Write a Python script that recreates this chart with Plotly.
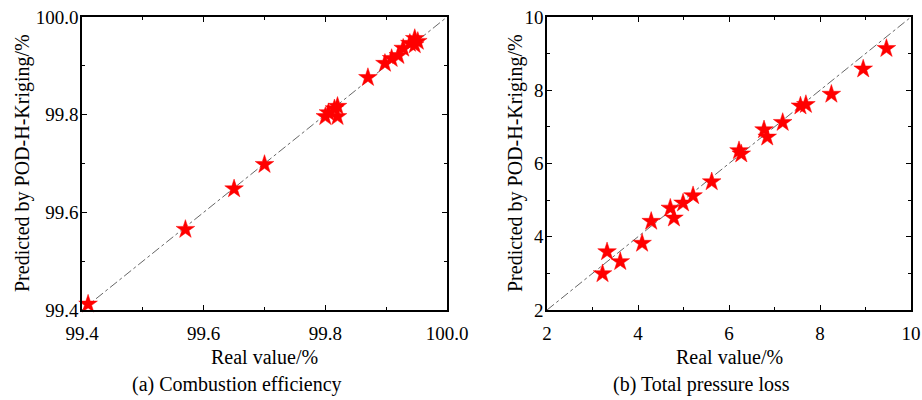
import plotly.graph_objects as go

# (a) Combustion efficiency
ce_real = [99.41, 99.57, 99.65, 99.70, 99.80, 99.805, 99.815, 99.82, 99.82, 99.87,
           99.898, 99.909, 99.92, 99.928, 99.939, 99.947, 99.947, 99.952]
ce_pred = [99.412, 99.565, 99.648, 99.698, 99.796, 99.804, 99.812, 99.817, 99.796, 99.876,
           99.905, 99.915, 99.921, 99.936, 99.946, 99.956, 99.943, 99.950]

# (b) Total pressure loss
tp_real = [3.22, 3.32, 3.61, 4.09, 4.29, 4.71, 4.79, 4.99, 5.21, 5.62,
           6.22, 6.27, 6.77, 6.84, 7.18, 7.57, 7.69, 8.25, 8.95, 9.46]
tp_pred = [2.99, 3.59, 3.32, 3.82, 4.42, 4.78, 4.51, 4.92, 5.12, 5.50,
           6.35, 6.26, 6.92, 6.72, 7.12, 7.57, 7.61, 7.89, 8.58, 9.14]

ce_range = [99.4, 100.0]
tp_range = [2, 10]
ce_ticks = [99.4, 99.6, 99.8, 100.0]
ce_ticktext = ["99.4", "99.6", "99.8", "100.0"]
tp_ticks = [2, 4, 6, 8, 10]

xlabel = "Real value/%"
ylabel = "Predicted by POD-H-Kriging/%"
captions = ["(a) Combustion efficiency", "(b) Total pressure loss"]

FONT = "Liberation Serif, Times New Roman, serif"
W, H = 922, 400

fig = go.Figure()

# diagonal reference lines
fig.add_trace(go.Scatter(x=ce_range, y=ce_range, mode="lines",
                         line=dict(color="#555555", width=0.9, dash="dashdot"),
                         xaxis="x", yaxis="y", showlegend=False, hoverinfo="skip"))
fig.add_trace(go.Scatter(x=tp_range, y=tp_range, mode="lines",
                         line=dict(color="#555555", width=0.9, dash="dashdot"),
                         xaxis="x2", yaxis="y2", showlegend=False, hoverinfo="skip"))

star = dict(symbol="star", size=14, color="#ff0000", line=dict(color="#ff0000", width=0.5))
fig.add_trace(go.Scatter(x=ce_real, y=ce_pred, mode="markers", marker=star,
                         xaxis="x", yaxis="y", showlegend=False, cliponaxis=False))
fig.add_trace(go.Scatter(x=tp_real, y=tp_pred, mode="markers", marker=star,
                         xaxis="x2", yaxis="y2", showlegend=False, cliponaxis=False))

# pixel geometry
L1, R1 = 82, 447
L2, R2 = 547, 911
T, B = 17, 310
xd1 = [L1 / W, R1 / W]
xd2 = [L2 / W, R2 / W]
yd = [1 - B / H, 1 - T / H]

tickfont = dict(family=FONT, size=19, color="black")

def axis(domain, rng, tickvals, ticktext, anchor, dminor, standoff):
    return dict(domain=domain, range=rng, anchor=anchor, tickvals=tickvals,
                ticktext=ticktext, ticks="inside", ticklen=5, tickwidth=1.2,
                tickcolor="black", showline=True, linecolor="black", linewidth=1.5,
                mirror="allticks", showgrid=False, zeroline=False, tickfont=tickfont,
                automargin=False, ticklabelstandoff=standoff,
                minor=dict(ticks="inside", ticklen=3, tickwidth=1.2, tickcolor="black",
                           dtick=dminor, tick0=rng[0], showgrid=False),
                fixedrange=True)

fig.update_layout(
    width=W, height=H,
    margin=dict(l=0, r=0, t=0, b=0),
    paper_bgcolor="white", plot_bgcolor="white",
    xaxis=axis(xd1, ce_range, ce_ticks, ce_ticktext, "y", 0.1, 5),
    yaxis=axis(yd, ce_range, ce_ticks, ce_ticktext, "x", 0.1, -2),
    xaxis2=axis(xd2, tp_range, tp_ticks, [str(v) for v in tp_ticks], "y2", 1, 5),
    yaxis2=axis(yd, tp_range, tp_ticks, [str(v) for v in tp_ticks], "x2", 1, -2),
)

afont = dict(family=FONT, size=20, color="black")
ann = []
for (l, r), cap in zip([(L1, R1), (L2, R2)], captions):
    cx = (l + r) / 2 / W
    ann.append(dict(x=cx, y=1 - 357 / H, xref="paper", yref="paper", text=xlabel,
                    showarrow=False, font=afont, xanchor="center", yanchor="middle"))
    ann.append(dict(x=cx - 28 / W, y=1 - 384 / H, xref="paper", yref="paper", text=cap,
                    showarrow=False, font=afont, xanchor="center", yanchor="middle"))
for xpix in [22, 515]:
    ann.append(dict(x=xpix / W, y=1 - 163 / H, xref="paper", yref="paper", text=ylabel,
                    showarrow=False, font=afont, textangle=-90,
                    xanchor="center", yanchor="middle"))
fig.update_layout(annotations=ann)

fig.write_html("out.html")
